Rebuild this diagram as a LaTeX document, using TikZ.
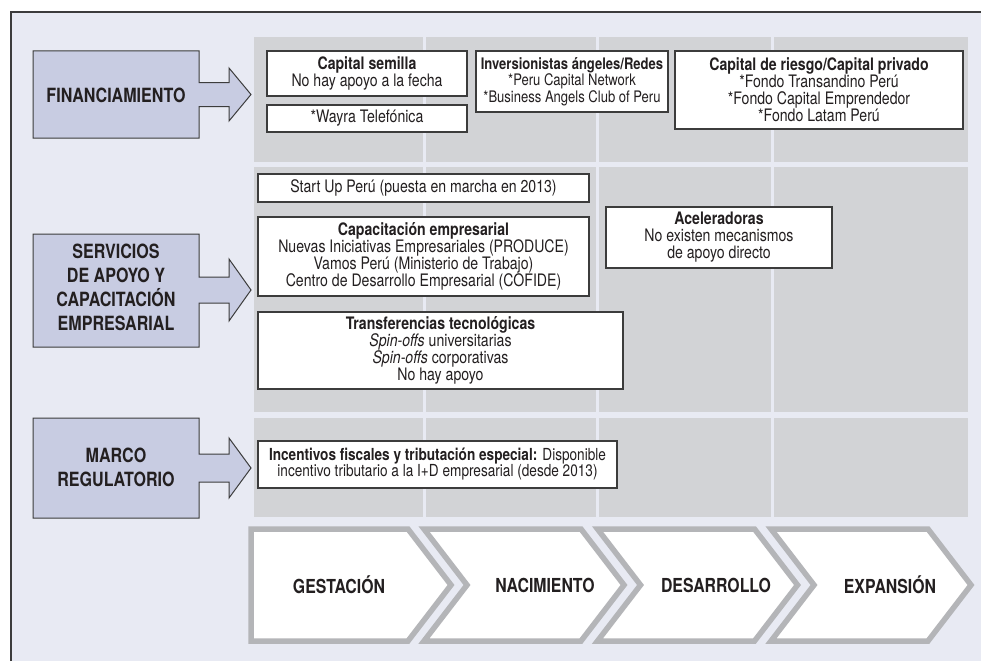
\documentclass[tikz,border=0pt]{standalone}
\usepackage{fontspec}
\setmainfont{TeX Gyre Heros}[FakeStretch=0.82]
\definecolor{bgl}{HTML}{E8EAF3}
\definecolor{cellc}{HTML}{D2D3D6}
\definecolor{labc}{HTML}{C8CCE2}
\definecolor{chevc}{HTML}{B4B5B8}
\definecolor{boxline}{HTML}{3C3C3C}
\definecolor{txt}{HTML}{231F20}
\newcommand\txtA{\fontsize{17.2}{17}\selectfont}
\newcommand\txtB{\fontsize{15.9}{14.8}\selectfont}
\newcommand\txtC{\fontsize{16.6}{16}\selectfont}
\newcommand\labfont{\fontsize{19.6}{24}\selectfont\bfseries}
\newcommand\chevfont{\fontsize{19.3}{24}\selectfont\bfseries}
\begin{document}
\begin{tikzpicture}[x=1pt,y=-1pt,
  wbox/.style={draw=boxline, fill=white, line width=1.1pt, inner sep=0pt, align=center, text=txt, font=\txtA},
  labshape/.style={draw=boxline, fill=labc, line width=1pt, line join=miter},
  labtext/.style={align=center, text=txt, font=\labfont, inner sep=0pt},
  chevshape/.style={draw=chevc, fill=white, line width=5.5pt, line join=miter, miter limit=10},
  chevtext/.style={text=txt, font=\chevfont, inner sep=0pt}]
\useasboundingbox (0,0) rectangle (981,661);
% background and frame
\fill[white] (0,0) rectangle (981,661);
\fill[bgl] (11,12) rectangle (981,661);
\draw[boxline, line width=1.5pt] (11,661) -- (11,12) -- (981,12);
% gray cells
\foreach \xa/\xb in {254/423,426/596,599/771,774/968}
  \foreach \ya/\yb in {37/162,167/412,418/517}
    \fill[cellc] (\xa,\ya) rectangle (\xb,\yb);
% left labels with arrows
\draw[labshape] (33,51) -- (199,51) -- (199,82.5) -- (229,82.5) -- (229,68) -- (251,94.5) -- (229,121) -- (229,106.5) -- (199,106.5) -- (199,138) -- (33,138) -- cycle;
\node[labtext] (fin) at (116,95) {FINANCIAMIENTO};
\draw[labshape] (33,234) -- (199,234) -- (199,277) -- (229,277) -- (229,259) -- (251,290) -- (229,321) -- (229,303) -- (199,303) -- (199,347) -- (33,347) -- cycle;
\node[labtext] (serv) at (116,287) {SERVICIOS\\DE APOYO Y\\CAPACITACIÓN\\EMPRESARIAL};
\draw[labshape] (33,418) -- (199,418) -- (199,454) -- (229,454) -- (229,438) -- (251,468) -- (229,498) -- (229,482) -- (199,482) -- (199,518) -- (33,518) -- cycle;
\node[labtext] (marco) at (116,467) {MARCO\\REGULATORIO};
% row 1 boxes
\node[wbox, minimum width=200pt, minimum height=45pt] (semilla) at (367,73.5)
  {\textbf{Capital semilla}\\No hay apoyo a la fecha};
\node[wbox, minimum width=200pt, minimum height=27pt] (wayra) at (367,118.5)
  {*Wayra Telefónica};
\node[wbox, font=\txtB, minimum width=192pt, minimum height=61pt] (angeles) at (572,81.5)
  {\textbf{Inversionistas ángeles/Redes}\\*Peru Capital Network\\*Business Angels Club of Peru};
\node[wbox, minimum width=288pt, minimum height=78pt] (riesgo) at (819,90)
  {\textbf{Capital de riesgo/Capital privado}\\*Fondo Transandino Perú\\*Fondo Capital Emprendedor\\*Fondo Latam Perú};
% row 2 boxes
\node[wbox, minimum width=331pt, minimum height=28pt] (startup) at (423.5,188)
  {Start Up Perú (puesta en marcha en 2013)};
\node[wbox, minimum width=331pt, minimum height=79pt] (capac) at (423.5,256.5)
  {\textbf{Capacitación empresarial}\\Nuevas Iniciativas Empresariales (PRODUCE)\\Vamos Perú (Ministerio de Trabajo)\\Centro de Desarrollo Empresarial (COFIDE)};
\node[wbox, minimum width=365pt, minimum height=77pt] (transf) at (440.5,350.5)
  {\textbf{Transferencias tecnológicas}\\\textit{Spin-offs} universitarias\\\textit{Spin-offs} corporativas\\No hay apoyo};
\node[wbox, minimum width=226pt, minimum height=61pt] (acel) at (719,237.5)
  {\textbf{Aceleradoras}\\No existen mecanismos\\de apoyo directo};
% row 3 box
\node[wbox, font=\txtC, minimum width=359pt, minimum height=47pt] (incent) at (437.5,464.5)
  {\textbf{Incentivos fiscales y tributación especial:} Disponible\\incentivo tributario a la I+D empresarial (desde 2013)};
% chevrons
\draw[chevshape] (251,529) -- (408,529) -- (451,585) -- (408,641) -- (251,641) -- cycle;
\node[chevtext] (gest) at (339,585) {GESTACIÓN};
\draw[chevshape] (424,529) -- (581,529) -- (624,585) -- (581,641) -- (424,641) -- (467,585) -- cycle;
\node[chevtext] (nac) at (545,585) {NACIMIENTO};
\draw[chevshape] (597.5,529) -- (754.5,529) -- (797.5,585) -- (754.5,641) -- (597.5,641) -- (640.5,585) -- cycle;
\node[chevtext] (des) at (716,585) {DESARROLLO};
\draw[chevshape] (771,529) -- (928,529) -- (971,585) -- (928,641) -- (771,641) -- (814,585) -- cycle;
\node[chevtext] (exp) at (890,585) {EXPANSIÓN};
\end{tikzpicture}
\end{document}
